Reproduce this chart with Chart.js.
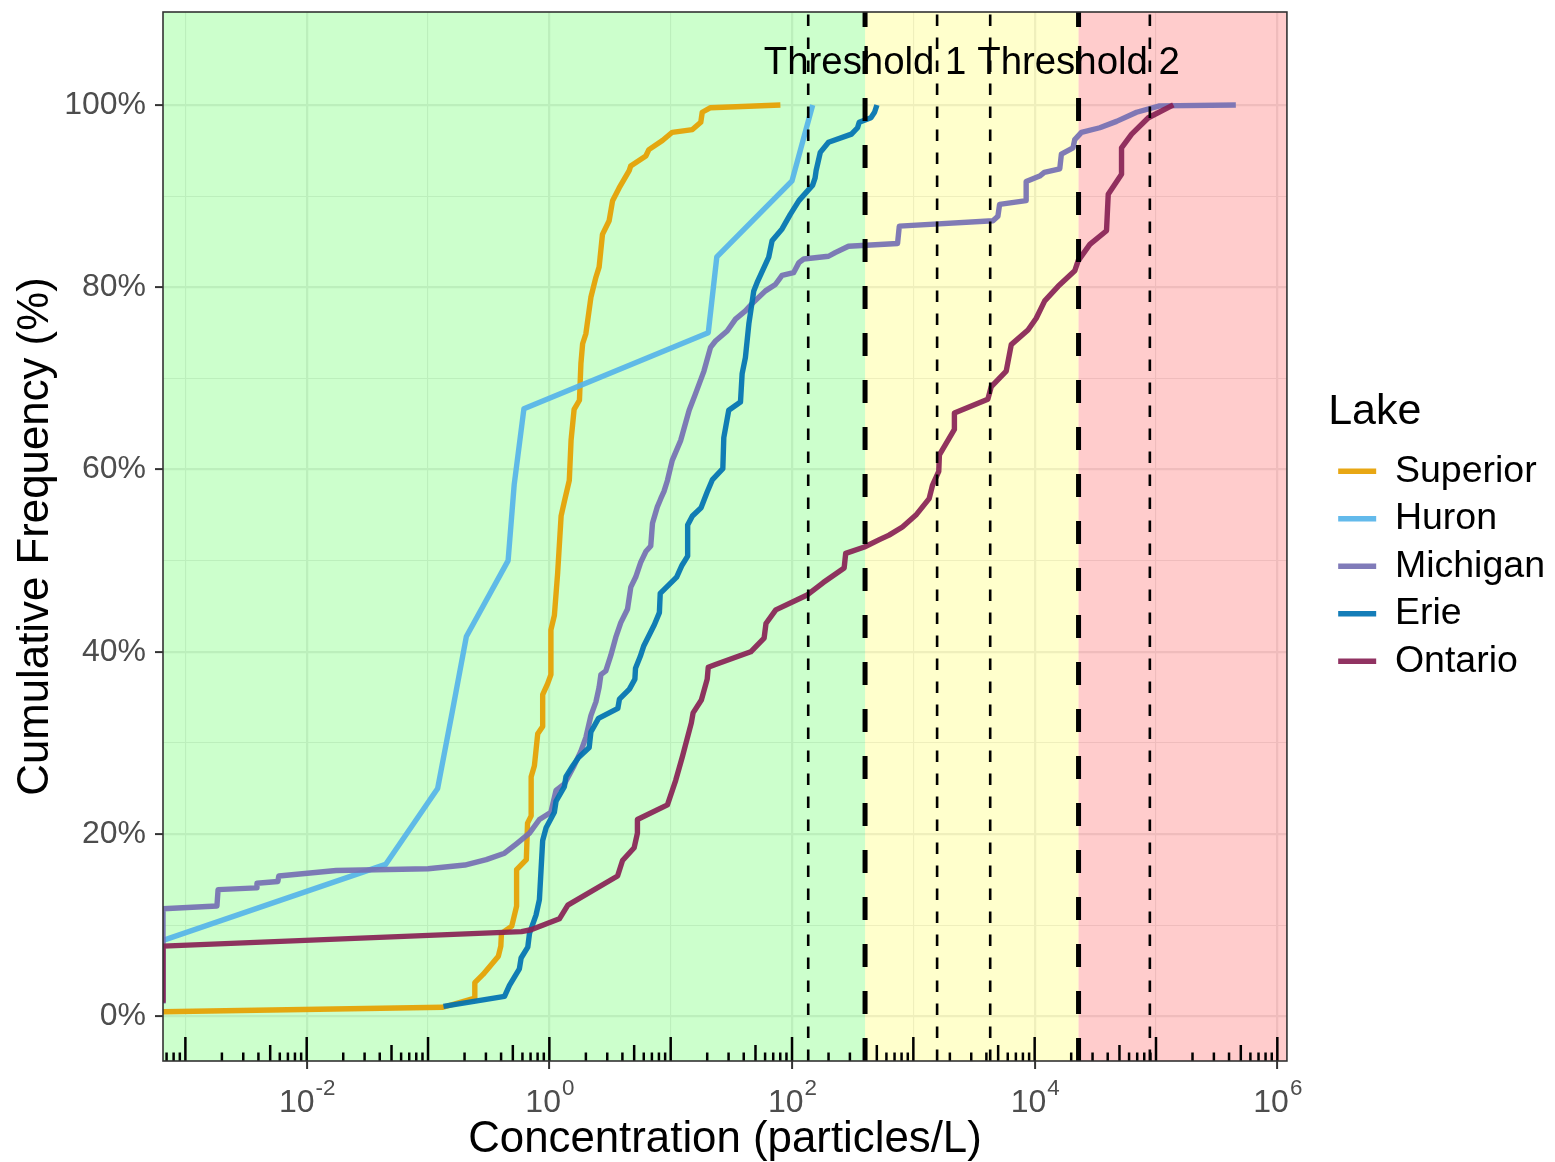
<!DOCTYPE html>
<html>
<head>
<meta charset="utf-8">
<script src="https://cdn.jsdelivr.net/npm/chart.js@4.4.1/dist/chart.umd.min.js"></script>
<style>
  html, body { margin: 0; padding: 0; background: #ffffff; }
  canvas { display: block; }
</style>
</head>
<body>
<canvas id="chart" width="1555" height="1162"></canvas>
<script>
// ---- Data: cumulative frequency (%) of microplastic concentration (particles/L) per lake ----
// A concentration of 0 is drawn at the left edge of the panel.
const LAKES = ['Superior', 'Huron', 'Michigan', 'Erie', 'Ontario'];
const LAKE_COLORS = ['#E69F00', '#56B4E9', '#7570B3', '#0072B2', '#882255'];

const superiorConc = [0, 0.133, 0.243, 0.243, 0.284, 0.324, 0.380, 0.398, 0.403, 0.490, 0.537, 0.537, 0.646, 0.661, 0.708, 0.708, 0.753, 0.802, 0.881, 0.881, 0.968, 1.03, 1.03, 1.10, 1.17, 1.25, 1.33, 1.46, 1.51, 1.60, 1.77, 1.82, 1.88, 2.00, 2.20, 2.42, 2.57, 2.74, 3.11, 3.32, 3.76, 4.55, 4.68, 6.24, 6.61, 8.55, 10.3, 15.1, 17.7, 18.2, 21.3, 80.2];
const superiorCum  = [0.5, 1.0, 2.0, 3.7, 4.6, 5.5, 6.6, 7.7, 9.1, 9.9, 12.1, 16.1, 17.2, 21.2, 22.0, 26.3, 27.5, 31.0, 31.8, 35.3, 36.5, 37.5, 42.4, 44.0, 48.6, 54.9, 56.5, 58.8, 63.2, 66.6, 67.6, 71.6, 73.8, 74.9, 78.9, 81.1, 82.2, 85.8, 87.3, 89.5, 90.9, 92.8, 93.3, 94.4, 95.1, 96.1, 97.0, 97.3, 98.1, 99.2, 99.7, 100];

const huronConc = [0, 0.0447, 0.120, 0.158, 0.207, 0.457, 0.513, 0.617, 20.4, 24.0, 100, 148];
const huronCum  = [8.33, 16.67, 25.0, 33.33, 41.67, 50.0, 58.33, 66.67, 75.0, 83.33, 91.67, 100];

const michiganConc = [0, 0, 0.00182, 0.00186, 0.00383, 0.00389, 0.00578, 0.00589, 0.0175, 0.1, 0.201, 0.302, 0.427, 0.532, 0.686, 0.828, 1.03, 1.135, 1.33, 1.60, 1.82, 2.0, 2.20, 2.42, 2.57, 2.66, 2.92, 3.21, 3.53, 3.88, 4.41, 4.69, 5.15, 5.66, 6.24, 6.85, 7.08, 7.76, 8.28, 8.81, 9.40, 10.3, 12.1, 14.2, 16.0, 18.8, 21.3, 23.4, 29.2, 34.2, 41.3, 46.9, 60.4, 72.9, 82.8, 103, 114, 125, 200, 227, 292, 741, 766, 4530, 4980, 5140, 8510, 8510, 11000, 12000, 16100, 16600, 20700, 21400, 24300, 34400, 47300, 69200, 107000, 455000];
const michiganCum  = [1.4, 11.8, 12.1, 13.9, 14.1, 14.6, 14.8, 15.4, 16.0, 16.2, 16.6, 17.2, 17.9, 18.9, 20.1, 21.6, 22.4, 24.8, 25.5, 27.5, 29.1, 30.6, 33.0, 34.5, 36.1, 37.5, 37.9, 39.6, 41.6, 43.2, 44.7, 47.1, 48.2, 49.8, 51.0, 51.6, 54.1, 55.9, 56.8, 57.6, 58.8, 61.0, 63.2, 66.5, 68.3, 70.8, 73.4, 74.1, 75.2, 76.5, 77.4, 78.2, 79.6, 80.3, 81.3, 81.6, 82.7, 83.1, 83.4, 83.8, 84.5, 84.8, 86.7, 87.3, 87.8, 89.1, 89.5, 91.6, 92.2, 92.6, 93.0, 94.6, 95.3, 96.2, 97.0, 97.5, 98.2, 99.2, 99.9, 100];

const erieConc = [0.134, 0.427, 0.469, 0.566, 0.585, 0.664, 0.686, 0.776, 0.828, 0.881, 0.940, 1.10, 1.135, 1.33, 1.37, 1.56, 1.74, 2.13, 2.20, 2.54, 3.67, 3.78, 4.57, 5.07, 5.13, 5.62, 5.98, 7.35, 8.07, 8.20, 11.2, 12.4, 13.8, 13.8, 15.1, 17.8, 19.95, 22.1, 26.9, 27.4, 30.1, 37.6, 38.8, 41.3, 44.1, 48.4, 51.5, 64.3, 68.5, 82.8, 96.8, 114, 148, 155, 158, 171, 200, 309, 347, 358, 447, 479, 501];
const erieCum  = [1.1, 2.2, 3.4, 5.2, 6.4, 7.6, 9.1, 11.1, 12.8, 19.3, 20.7, 22.4, 23.6, 25.2, 26.3, 27.5, 28.4, 29.5, 31.2, 32.7, 33.8, 34.8, 35.9, 37.0, 38.2, 39.5, 40.6, 43.0, 44.3, 46.4, 48.2, 49.5, 50.5, 53.9, 54.9, 55.8, 57.5, 58.9, 60.1, 63.5, 66.5, 67.4, 70.5, 72.3, 76.0, 79.6, 80.5, 83.3, 85.1, 86.4, 88.0, 89.5, 91.2, 92.0, 92.8, 94.8, 95.9, 96.8, 97.5, 98.1, 98.6, 99.2, 100];

const ontarioConc = [0, 0, 0.589, 0.706, 1.21, 1.42, 3.65, 4.01, 5.0, 5.32, 5.32, 9.40, 11.0, 12.5, 13.2, 14.8, 15.3, 17.9, 20.0, 20.4, 23.4, 45.7, 58.9, 61.0, 73.5, 132, 181, 269, 277, 395, 525, 631, 813, 1050, 1350, 1440, 1620, 1640, 2180, 2180, 4110, 4390, 5830, 6410, 8810, 10300, 12100, 15600, 21400, 22800, 28500, 39100, 40400, 52000, 52000, 63000, 86500, 139000];
const ontarioCum  = [1.5, 7.7, 9.3, 9.5, 10.7, 12.2, 15.4, 17.1, 18.5, 20.1, 21.6, 23.2, 25.9, 28.5, 29.7, 32.2, 33.3, 34.7, 37.0, 38.3, 38.6, 40.0, 41.5, 43.1, 44.6, 46.2, 47.6, 49.2, 50.8, 51.5, 52.3, 52.8, 53.7, 55.0, 56.8, 58.3, 59.8, 61.6, 64.4, 66.2, 67.7, 69.1, 70.8, 73.7, 75.3, 76.6, 78.5, 80.1, 81.8, 82.9, 84.7, 86.2, 90.2, 92.4, 95.3, 96.8, 98.6, 100];

// Risk thresholds (particles/L), their bounds, and their labels
const THRESHOLDS = [400, 23000];
const THRESHOLD_LABELS = ['Threshold 1', 'Threshold 2'];
const THRESHOLD_BOUNDS = [136, 1570, 4300, 89000];
const THRESHOLD_LABEL_Y = 104.6;

// Axis ranges and ticks
const X_MIN = 6.54e-4;
const X_MAX = 1.2e6;
const Y_MIN = -4.9;
const Y_MAX = 110.2;
const X_GRID_EXPONENTS = [-3, -2, -1, 0, 1, 2, 3, 4, 5, 6];
const X_LABEL_EXPONENTS = [-2, 0, 2, 4, 6];
const Y_GRID_VALUES = [0, 10, 20, 30, 40, 50, 60, 70, 80, 90, 100];
const Y_LABEL_STEP = 20;

// ---- Styling ----
const FONT = '"Liberation Sans", Arial, Helvetica, sans-serif';
const ZONE_FILLS = ['rgba(0,255,0,0.2)', 'rgba(255,255,0,0.2)', 'rgba(255,0,0,0.2)'];
const GRID_COLOR = '#EBEBEB';
const AXIS_TEXT = '#4D4D4D';
const AXIS_LINE = '#333333';
const LINE_ALPHA = 0.92;
const LINE_WIDTH = 5.4;

function withAlpha(hex, a) {
  const n = parseInt(hex.slice(1), 16);
  return `rgba(${(n >> 16) & 255},${(n >> 8) & 255},${n & 255},${a})`;
}

const series = [
  [superiorConc, superiorCum],
  [huronConc, huronCum],
  [michiganConc, michiganCum],
  [erieConc, erieCum],
  [ontarioConc, ontarioCum]
];

const datasets = LAKES.map((name, i) => {
  const [conc, cum] = series[i];
  return {
    label: name,
    data: conc.map((c, j) => ({ x: c > 0 ? c : X_MIN, y: cum[j] })),
    borderColor: withAlpha(LAKE_COLORS[i], LINE_ALPHA),
    backgroundColor: withAlpha(LAKE_COLORS[i], LINE_ALPHA),
    borderWidth: LINE_WIDTH,
    pointBorderWidth: LINE_WIDTH,
    pointRadius: 0,
    tension: 0,
    borderJoinStyle: 'round',
    borderCapStyle: 'butt',
    fill: false,
    order: LAKES.length - i,
    xAxisID: 'x',
    yAxisID: 'y'
  };
});

const isMajorX = v => Math.round(Math.log10(v)) % 2 === 0;
const isMajorY = v => Math.round(v) % Y_LABEL_STEP === 0;

// Panel decorations: risk zones, threshold lines, labels, log ticks and frame
const panelPlugin = {
  id: 'panelDecor',
  beforeDraw(chart) {
    const { ctx, width, height } = chart;
    ctx.save();
    ctx.fillStyle = '#ffffff';
    ctx.fillRect(0, 0, width, height);
    ctx.restore();
  },
  beforeDatasetsDraw(chart) {
    const { ctx, chartArea: a, scales: { x } } = chart;
    const edges = [X_MIN, ...THRESHOLDS, X_MAX];
    ctx.save();
    for (let i = 0; i < ZONE_FILLS.length; i++) {
      const x0 = x.getPixelForValue(edges[i]);
      const x1 = x.getPixelForValue(edges[i + 1]);
      ctx.fillStyle = ZONE_FILLS[i];
      ctx.fillRect(x0, a.top, x1 - x0, a.bottom - a.top);
    }
    ctx.restore();
  },
  afterDatasetsDraw(chart) {
    const { ctx, chartArea: a, scales: { x, y } } = chart;
    ctx.save();
    ctx.beginPath();
    ctx.rect(a.left, a.top, a.right - a.left, a.bottom - a.top);
    ctx.clip();
    ctx.strokeStyle = '#000000';
    ctx.lineCap = 'butt';
    // threshold bounds (thin dashes)
    ctx.lineWidth = 2.6;
    ctx.setLineDash([11.5, 11.5]);
    THRESHOLD_BOUNDS.forEach(v => {
      const px = x.getPixelForValue(v);
      ctx.beginPath();
      ctx.moveTo(px, a.bottom);
      ctx.lineTo(px, a.top);
      ctx.stroke();
    });
    // thresholds (thick dashes)
    ctx.lineWidth = 5;
    ctx.setLineDash([23, 24]);
    THRESHOLDS.forEach(v => {
      const px = x.getPixelForValue(v);
      ctx.beginPath();
      ctx.moveTo(px, a.bottom);
      ctx.lineTo(px, a.top);
      ctx.stroke();
    });
    ctx.setLineDash([]);
    // threshold labels
    ctx.fillStyle = '#000000';
    ctx.font = `38.4px ${FONT}`;
    ctx.textAlign = 'center';
    ctx.textBaseline = 'middle';
    THRESHOLDS.forEach((v, i) => {
      ctx.fillText(THRESHOLD_LABELS[i], x.getPixelForValue(v), y.getPixelForValue(THRESHOLD_LABEL_Y));
    });
    // log ticks along the bottom of the panel
    ctx.lineWidth = 2.5;
    for (let e = -4; e <= 6; e++) {
      for (let k = 1; k <= 9; k++) {
        const v = k * Math.pow(10, e);
        if (v < X_MIN || v > X_MAX) continue;
        const len = k === 1 ? 24 : (k === 5 ? 16 : 8.5);
        const px = x.getPixelForValue(v);
        ctx.beginPath();
        ctx.moveTo(px, a.bottom);
        ctx.lineTo(px, a.bottom - len);
        ctx.stroke();
      }
    }
    ctx.restore();
    // panel frame
    ctx.save();
    ctx.strokeStyle = AXIS_LINE;
    ctx.lineWidth = 1.6;
    ctx.strokeRect(a.left, a.top, a.right - a.left, a.bottom - a.top);
    ctx.restore();
  },
  afterDraw(chart) {
    // x tick labels as powers of ten with raised exponents
    const { ctx, chartArea: a, scales: { x } } = chart;
    const baseSize = 32, expSize = 22.4;
    const baseY = a.bottom + 51;
    const expY = baseY - 17;
    ctx.save();
    ctx.fillStyle = AXIS_TEXT;
    ctx.textBaseline = 'alphabetic';
    ctx.textAlign = 'left';
    X_LABEL_EXPONENTS.forEach(e => {
      const px = x.getPixelForValue(Math.pow(10, e));
      const expText = String(e);
      ctx.font = `${baseSize}px ${FONT}`;
      const wb = ctx.measureText('10').width;
      ctx.font = `${expSize}px ${FONT}`;
      const we = ctx.measureText(expText).width;
      const start = px - (wb + we) / 2;
      ctx.font = `${baseSize}px ${FONT}`;
      ctx.fillText('10', start, baseY);
      ctx.font = `${expSize}px ${FONT}`;
      ctx.fillText(expText, start + wb + 1, expY);
    });
    ctx.restore();
  }
};

new Chart(document.getElementById('chart'), {
  type: 'line',
  data: { datasets },
  plugins: [panelPlugin],
  options: {
    responsive: false,
    animation: false,
    devicePixelRatio: 1,
    events: [],
    layout: { padding: { top: 12, left: 0, right: 0, bottom: 0 } },
    scales: {
      x: {
        type: 'logarithmic',
        position: 'bottom',
        min: X_MIN,
        max: X_MAX,
        bounds: 'data',
        afterBuildTicks: s => { s.ticks = X_GRID_EXPONENTS.map(e => ({ value: Math.pow(10, e) })); },
        afterFit: s => { s.height = 101; s.paddingLeft = 0; s.paddingRight = 0; },
        ticks: { display: false },
        grid: {
          color: GRID_COLOR,
          lineWidth: c => (c.tick && isMajorX(c.tick.value) ? 2.2 : 1.1),
          drawTicks: true,
          tickLength: 8,
          tickWidth: 2,
          tickColor: c => (c.tick && isMajorX(c.tick.value) ? AXIS_LINE : 'rgba(0,0,0,0)')
        },
        border: { display: false },
        title: {
          display: true,
          text: 'Concentration (particles/L)',
          color: '#000000',
          font: { family: FONT, size: 43.8, lineHeight: 1 },
          padding: { top: 0, bottom: 0 }
        }
      },
      y: {
        type: 'linear',
        position: 'left',
        min: Y_MIN,
        max: Y_MAX,
        bounds: 'data',
        afterBuildTicks: s => { s.ticks = Y_GRID_VALUES.map(v => ({ value: v })); },
        afterFit: s => { s.width = 163; s.paddingTop = 0; s.paddingBottom = 0; },
        ticks: {
          autoSkip: false,
          color: AXIS_TEXT,
          padding: 9,
          font: { family: FONT, size: 32 },
          callback: v => (isMajorY(v) ? `${v}%` : '')
        },
        grid: {
          color: GRID_COLOR,
          lineWidth: c => (c.tick && isMajorY(c.tick.value) ? 2.2 : 1.1),
          drawTicks: true,
          tickLength: 8,
          tickWidth: 2,
          tickColor: c => (c.tick && isMajorY(c.tick.value) ? AXIS_LINE : 'rgba(0,0,0,0)')
        },
        border: { display: false },
        title: {
          display: true,
          text: 'Cumulative Frequency (%)',
          color: '#000000',
          font: { family: FONT, size: 43.8, lineHeight: 1 },
          padding: { top: 14, bottom: 0 }
        }
      },
      gap: {
        type: 'linear',
        position: 'right',
        display: true,
        afterFit: s => { s.width = 41.25; s.paddingTop = 0; s.paddingBottom = 0; },
        ticks: { display: false },
        grid: { display: false, drawTicks: false },
        border: { display: false }
      }
    },
    plugins: {
      tooltip: { enabled: false },
      legend: {
        display: true,
        position: 'right',
        align: 'center',
        fullSize: false,
        title: {
          display: true,
          text: 'Lake',
          color: '#000000',
          position: 'start',
          font: { family: FONT, size: 43, lineHeight: 1.2 },
          padding: { top: 8, bottom: 0 }
        },
        labels: {
          usePointStyle: true,
          pointStyle: 'line',
          pointStyleWidth: 38,
          color: '#000000',
          padding: 10,
          font: { family: FONT, size: 37.5 },
          sort: (a, b) => a.datasetIndex - b.datasetIndex
        }
      }
    }
  }
});
</script>
</body>
</html>
